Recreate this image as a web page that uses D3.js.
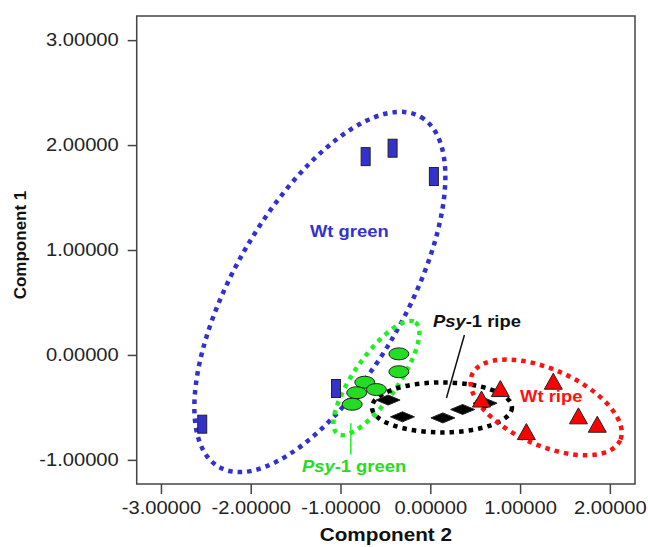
<!DOCTYPE html>
<html>
<head>
<meta charset="utf-8">
<script src="https://cdnjs.cloudflare.com/ajax/libs/d3/7.8.5/d3.min.js"></script>
<style>
  body { margin: 0; background: #fff; }
  svg { display: block; font-family: 'Liberation Sans', Arial, sans-serif; }
</style>
</head>
<body>
<div id="chart"></div>
<script>
// scores: c2 = Component 2 (x), c1 = Component 1 (y)
const wtGreen = [
  { c2: -0.72, c1: 1.89 }, { c2: -0.42, c1: 1.97 }, { c2: 0.04, c1: 1.70 },
  { c2: -1.05, c1: -0.32 }, { c2: -2.54, c1: -0.66 }
];
const psyGreen = [
  { c2: -0.35, c1: 0.01 }, { c2: -0.35, c1: -0.16 }, { c2: -0.73, c1: -0.26 },
  { c2: -0.60, c1: -0.33 }, { c2: -0.82, c1: -0.36 }, { c2: -0.87, c1: -0.47 }
];
const psyRipe = [
  { c2: -0.47, c1: -0.43 }, { c2: -0.31, c1: -0.59 }, { c2: 0.14, c1: -0.60 },
  { c2: 0.36, c1: -0.52 }, { c2: 0.61, c1: -0.46 }
];
const wtRipe = [
  { c2: 0.57, c1: -0.43 }, { c2: 0.78, c1: -0.33 }, { c2: 1.37, c1: -0.26 },
  { c2: 1.65, c1: -0.59 }, { c2: 1.86, c1: -0.67 }, { c2: 1.07, c1: -0.74 }
];
const xTicks = [-3, -2, -1, 0, 1, 2];
const yTicks = [-1, 0, 1, 2, 3];

// group outlines: centre in data units, radii in px, tilt in degrees
const groupRings = [
  { c2: -1.23, c1: 0.60, rx: 202, ry: 86, tilt: 60, color: '#3131d0' },
  { c2: -0.60, c1: -0.22, rx: 68, ry: 22, tilt: 55, color: '#22ee22' },
  { c2: 0.13, c1: -0.50, rx: 70, ry: 25, tilt: 0, color: '#000000' },
  { c2: 1.29, c1: -0.50, rx: 81, ry: 38, tilt: -24, color: '#ff1111' }
];
const groupLabels = [
  { c2: -1.34, c1: 1.12, parts: [['Wt green', false]], color: '#3333cc' },
  { c2: 0.03, c1: 0.27, parts: [['Psy', true], ['-1 ripe', false]], color: '#111111' },
  { c2: 1.00, c1: -0.45, parts: [['Wt ripe', false]], color: '#ff1111' },
  { c2: -1.43, c1: -1.12, parts: [['Psy', true], ['-1 green', false]], color: '#22dd22' }
];
const leaderLines = [
  { from: [-0.885, -0.65], to: [-0.885, -0.95], color: '#22ee22' },
  { from: [0.38, 0.19], to: [0.18, -0.41], color: '#111111' }
];

const W = 648, H = 547;
const frame = { left: 136.7, right: 635, top: 16, bottom: 484 };
const stretch = 1.15; // the source picture is widened horizontally

const svg = d3.select('#chart').append('svg')
  .attr('width', W)
  .attr('height', H);

const x = d3.scaleLinear().domain([-3.27, 2.28]).range([frame.left, frame.right]);
const y = d3.scaleLinear().domain([-1.23, 3.23]).range([frame.bottom, frame.top]);

// axes (plain hyphen for negatives, as in the original)
const fmt = v => d3.format('.5f')(v).replace('\u2212', '-');
const xAxis = svg.append('g')
  .attr('transform', `translate(0,${frame.bottom})`)
  .call(d3.axisBottom(x).tickValues(xTicks).tickFormat(fmt).tickSize(10).tickPadding(8).tickSizeOuter(0));
const yAxis = svg.append('g')
  .attr('transform', `translate(${frame.left},0)`)
  .call(d3.axisLeft(y).tickValues(yTicks).tickFormat(fmt).tickSize(9).tickPadding(9).tickSizeOuter(0));

[xAxis, yAxis].forEach(a => {
  a.select('.domain').remove();
  a.selectAll('.tick line').attr('stroke', '#444').attr('stroke-width', 1.5);
  a.selectAll('.tick text')
    .style('font-family', "'Liberation Sans', Arial, sans-serif")
    .style('font-size', '17.5px')
    .attr('fill', '#222');
});
xAxis.selectAll('.tick text').attr('transform', `scale(${stretch},1)`);
yAxis.selectAll('.tick text')
  .attr('x', -18 / stretch)
  .attr('transform', `scale(${stretch},1)`);

// frame
svg.append('rect')
  .attr('x', frame.left)
  .attr('y', frame.top)
  .attr('width', frame.right - frame.left)
  .attr('height', frame.bottom - frame.top)
  .attr('fill', 'none')
  .attr('stroke', '#444')
  .attr('stroke-width', 1.5);

// axis titles
svg.append('g')
  .attr('transform', `translate(${(frame.left + frame.right) / 2},541) scale(${stretch},1)`)
  .append('text')
  .attr('text-anchor', 'middle')
  .style('font-size', '18px')
  .style('font-weight', 'bold')
  .attr('fill', '#111')
  .text('Component 2');
svg.append('text')
  .attr('transform', 'translate(26,245) rotate(-90)')
  .attr('text-anchor', 'middle')
  .style('font-size', '17px')
  .style('font-weight', 'bold')
  .attr('fill', '#111')
  .text('Component 1');

// dotted group outlines
svg.append('g').selectAll('ellipse')
  .data(groupRings)
  .join('ellipse')
  .attr('transform', d => `translate(${x(d.c2)},${y(d.c1)}) rotate(${-d.tilt})`)
  .attr('rx', d => d.rx)
  .attr('ry', d => d.ry)
  .attr('fill', 'none')
  .attr('stroke', d => d.color)
  .attr('stroke-width', 4.5)
  .attr('stroke-dasharray', '4.5 5');

// markers
const markers = svg.append('g').attr('stroke', '#222').attr('stroke-width', 1);

markers.selectAll('.wtg')
  .data(wtGreen)
  .join('rect')
  .attr('class', 'wtg')
  .attr('x', d => x(d.c2) - 4.5)
  .attr('y', d => y(d.c1) - 9)
  .attr('width', 9)
  .attr('height', 18)
  .attr('fill', '#3333cc');

markers.selectAll('.psyg')
  .data(psyGreen)
  .join('ellipse')
  .attr('class', 'psyg')
  .attr('cx', d => x(d.c2))
  .attr('cy', d => y(d.c1))
  .attr('rx', 10)
  .attr('ry', 6)
  .attr('fill', '#22dd22');

const diamond = 'M-12,0L0,-5L12,0L0,5Z';
markers.selectAll('.psyr')
  .data(psyRipe)
  .join('path')
  .attr('class', 'psyr')
  .attr('transform', d => `translate(${x(d.c2)},${y(d.c1)})`)
  .attr('d', diamond)
  .attr('fill', '#000');

const triangle = 'M0,-9L9,7L-9,7Z';
markers.selectAll('.wtr')
  .data(wtRipe)
  .join('path')
  .attr('class', 'wtr')
  .attr('transform', d => `translate(${x(d.c2)},${y(d.c1)})`)
  .attr('d', triangle)
  .attr('fill', '#ff0000');

// leader lines and labels
svg.append('g').selectAll('line')
  .data(leaderLines)
  .join('line')
  .attr('x1', d => x(d.from[0]))
  .attr('y1', d => y(d.from[1]))
  .attr('x2', d => x(d.to[0]))
  .attr('y2', d => y(d.to[1]))
  .attr('stroke', d => d.color)
  .attr('stroke-width', 1.5);

const labels = svg.append('g').selectAll('g')
  .data(groupLabels)
  .join('g')
  .attr('transform', d => `translate(${x(d.c2)},${y(d.c1)}) scale(${stretch},1)`)
  .append('text')
  .style('font-size', '16px')
  .style('font-weight', 'bold')
  .attr('fill', d => d.color);
labels.selectAll('tspan')
  .data(d => d.parts)
  .join('tspan')
  .style('font-style', p => p[1] ? 'italic' : 'normal')
  .text(p => p[0]);
</script>
</body>
</html>
